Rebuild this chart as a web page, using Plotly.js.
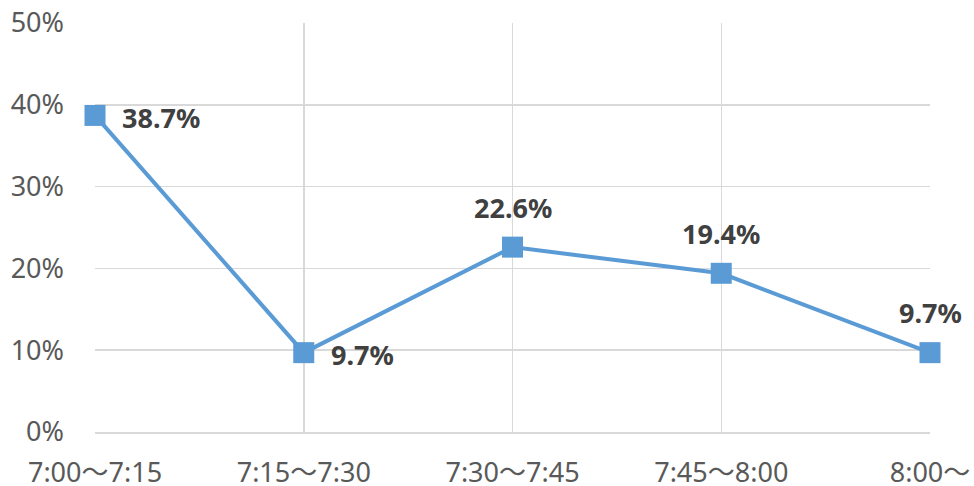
<!DOCTYPE html>
<html>
<head>
<meta charset="utf-8">
<script src="https://cdn.plot.ly/plotly-3.0.1.min.js"></script>
<style>html,body{margin:0;padding:0;background:#fff;}#chart{width:974px;height:486px;}</style>
</head>
<body>
<div id="chart"></div>
<script>
const categories = ["7:00〜7:15", "7:15〜7:30", "7:30〜7:45", "7:45〜8:00", "8:00〜"];
const values = [0.387, 0.097, 0.226, 0.194, 0.097];
const labels = ["38.7%", "9.7%", "22.6%", "19.4%", "9.7%"];
const labelSide = ["right", "right", "top", "top", "top"];
const yTickVals = [0, 0.1, 0.2, 0.3, 0.4, 0.5];
const yTickText = ["0%", "10%", "20%", "30%", "40%", "50%"];

const fontFam = "'Noto Sans', 'Noto Sans CJK JP', sans-serif";
const xs = categories.map((c, i) => i);

const annotations = values.map((v, i) => {
  const right = labelSide[i] === 'right';
  return {
    x: xs[i], y: v, xref: 'x', yref: 'y',
    text: '<b>' + labels[i] + '</b>', showarrow: false,
    xanchor: right ? 'left' : 'center',
    yanchor: 'middle',
    xshift: right ? 25 : 0,
    yshift: right ? -2 : 40,
    font: {family: fontFam, size: 27, color: '#404040'}
  };
});

Plotly.newPlot('chart', [{
  x: xs,
  y: values,
  type: 'scatter',
  mode: 'lines+markers',
  line: {color: '#5B9BD5', width: 4},
  marker: {symbol: 'square', size: 21, color: '#5B9BD5'},
  cliponaxis: false,
  hoverinfo: 'none'
}], {
  width: 974, height: 486,
  margin: {l: 95, r: 44, t: 23, b: 54},
  paper_bgcolor: '#fff', plot_bgcolor: '#fff',
  showlegend: false,
  annotations: annotations,
  font: {family: fontFam, color: '#595959', size: 27},
  xaxis: {
    range: [0, 4],
    tickvals: xs,
    ticktext: categories,
    showgrid: true, gridcolor: '#d9d9d9', gridwidth: 1.5,
    showline: true, linecolor: '#d9d9d9', linewidth: 1.5,
    zeroline: false,
    ticks: '', ticklabelstandoff: 16,
    tickfont: {family: fontFam, size: 27, color: '#595959'}
  },
  yaxis: {
    range: [0, 0.5],
    tickvals: yTickVals,
    ticktext: yTickText,
    showgrid: true, gridcolor: '#d9d9d9', gridwidth: 1.5,
    zeroline: false, showline: false,
    ticks: '', ticklabelstandoff: 30,
    tickfont: {family: fontFam, size: 27, color: '#595959'}
  }
}, {staticPlot: true});
</script>
</body>
</html>
